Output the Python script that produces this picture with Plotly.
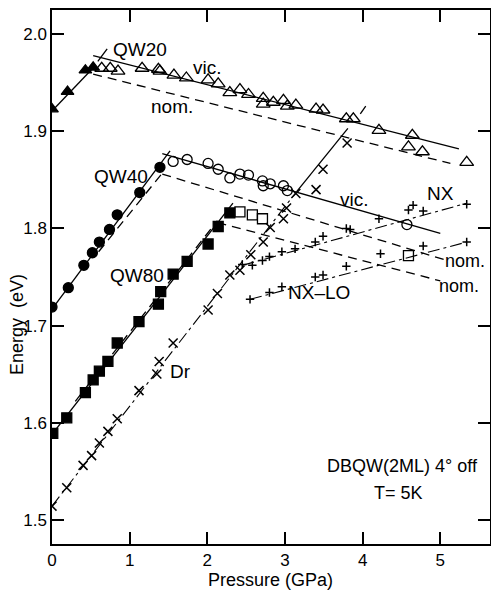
import plotly.graph_objects as go

# ---------------- data (pressure in GPa, energy in eV) ----------------
qw20_fill_p = [0.0, 0.20, 0.43, 0.53]
qw20_fill_e = [1.923, 1.941, 1.963, 1.966]
qw20_open_p = [0.64, 0.75, 0.85, 1.16, 1.37, 1.39, 1.57, 1.73, 2.01, 2.14, 2.29, 2.42, 2.53,
               2.72, 2.72, 2.85, 2.98, 3.03, 3.14, 3.40, 3.49, 3.79, 3.88, 4.21, 4.64, 4.59, 4.77, 5.34]
qw20_open_e = [1.965, 1.965, 1.962, 1.965, 1.964, 1.962, 1.958, 1.955, 1.953, 1.949, 1.940, 1.943, 1.938,
               1.934, 1.928, 1.930, 1.932, 1.926, 1.927, 1.923, 1.922, 1.913, 1.913, 1.901, 1.896, 1.884, 1.879, 1.868]

qw40_fill_p = [0.0, 0.21, 0.41, 0.52, 0.61, 0.74, 0.84, 1.13, 1.39]
qw40_fill_e = [1.719, 1.739, 1.762, 1.775, 1.786, 1.799, 1.814, 1.837, 1.863]
qw40_open_p = [1.56, 1.74, 2.01, 2.14, 2.29, 2.42, 2.53, 2.71, 2.72, 2.81, 2.98, 3.03, 4.57]
qw40_open_e = [1.869, 1.871, 1.867, 1.861, 1.852, 1.856, 1.855, 1.849, 1.844, 1.846, 1.844, 1.839, 1.804]

qw80_fill_p = [0.01, 0.19, 0.43, 0.53, 0.61, 0.72, 0.84, 1.12, 1.37, 1.40, 1.56, 1.74, 2.01, 2.14, 2.29]
qw80_fill_e = [1.589, 1.605, 1.631, 1.644, 1.653, 1.663, 1.682, 1.704, 1.722, 1.735, 1.753, 1.766, 1.784, 1.802, 1.816]
qw80_open_p = [2.42, 2.58, 2.71, 4.59]
qw80_open_e = [1.817, 1.814, 1.810, 1.772]

dr_p = [0.0, 0.19, 0.40, 0.51, 0.61, 0.72, 0.84, 1.12, 1.35, 1.38, 1.56, 2.01, 2.13, 2.29, 2.42,
        2.56, 2.72, 2.81, 2.98, 3.02, 3.14, 3.40, 3.49, 3.80]
dr_e = [1.514, 1.533, 1.556, 1.566, 1.579, 1.591, 1.604, 1.633, 1.650, 1.663, 1.682, 1.716, 1.733, 1.752, 1.757,
        1.773, 1.786, 1.801, 1.810, 1.821, 1.836, 1.840, 1.861, 1.888]

nx_p = [2.45, 2.58, 2.71, 2.80, 2.96, 3.13, 3.39, 3.49, 3.79, 3.84, 4.21, 4.59, 4.65, 4.78, 5.34]
nx_e = [1.763, 1.762, 1.767, 1.771, 1.776, 1.779, 1.786, 1.792, 1.800, 1.799, 1.810, 1.819, 1.824, 1.818, 1.825]
nxlo_p = [2.55, 2.80, 2.96, 3.39, 3.49, 3.79, 4.23, 4.78, 5.34]
nxlo_e = [1.727, 1.734, 1.740, 1.750, 1.752, 1.761, 1.774, 1.782, 1.786]

# fitted guide lines (start/end points)
qw20_rise_p, qw20_rise_e = [0.0, 0.55], [1.921, 1.967]
qw20_rise_ext_p, qw20_rise_ext_e = [0.59, 0.71], [1.972, 1.985]
qw20_vic_p, qw20_vic_e = [0.53, 5.24], [1.978, 1.882]
qw20_nom_p, qw20_nom_e = [0.53, 5.13], [1.959, 1.867]

qw40_rise_p, qw40_rise_e = [0.0, 1.52], [1.717, 1.880]
qw40_rise_nom_p, qw40_rise_nom_e = [0.60, 1.42], [1.776, 1.857]
qw40_vic_p, qw40_vic_e = [1.42, 5.00], [1.877, 1.795]
qw40_nom_p, qw40_nom_e = [1.42, 5.09], [1.856, 1.767]

qw80_rise_p, qw80_rise_e = [0.0, 2.33], [1.588, 1.826]
qw80_rise_nom_p, qw80_rise_nom_e = [0.30, 2.13], [1.622, 1.808]
qw80_nom_p, qw80_nom_e = [2.13, 5.00], [1.806, 1.746]

dr_low_p, dr_low_e = [0.0, 3.15], [1.514, 1.838]
dr_high_p, dr_high_e = [3.15, 3.81], [1.838, 1.903]
dr_ext_p, dr_ext_e = [3.97, 4.04], [1.918, 1.926]

nx_line_p, nx_line_e = [2.45, 5.34], [1.762, 1.826]
nxlo_line_p, nxlo_line_e = [2.55, 5.34], [1.727, 1.786]

x_ticks = [0, 1, 2, 3, 4, 5]
y_ticks = [1.5, 1.6, 1.7, 1.8, 1.9, 2.0]
y_tick_text = ["1.5", "1.6", "1.7", "1.8", "1.9", "2.0"]

FONT = "Liberation Sans"
K = "black"
DASH = "9px,6px"
DASHDOT = "12px,4px,3px,4px"

fig = go.Figure()


def line(p, e, dash="solid", w=1.3):
    fig.add_trace(go.Scatter(x=p, y=e, mode="lines", line=dict(color=K, width=w, dash=dash),
                             hoverinfo="skip", showlegend=False))


def pts(p, e, symbol, size, lw=1.3, fill=K):
    fig.add_trace(go.Scatter(x=p, y=e, mode="markers",
                             marker=dict(symbol=symbol, size=size, color=fill,
                                         line=dict(color=K, width=lw)),
                             showlegend=False))


# lines
line(qw20_rise_p, qw20_rise_e)
line(qw20_rise_ext_p, qw20_rise_ext_e)
line(qw20_vic_p, qw20_vic_e)
line(qw20_nom_p, qw20_nom_e, DASH)
line(qw40_rise_p, qw40_rise_e)
line(qw40_rise_nom_p, qw40_rise_nom_e, DASH)
line(qw40_vic_p, qw40_vic_e)
line(qw40_nom_p, qw40_nom_e, DASH)
line(qw80_rise_p, qw80_rise_e)
line(qw80_rise_nom_p, qw80_rise_nom_e, DASH)
line(qw80_nom_p, qw80_nom_e, DASH)
line(dr_low_p, dr_low_e, DASHDOT, 1.1)
line(dr_high_p, dr_high_e)
line(dr_ext_p, dr_ext_e)
line(nx_line_p, nx_line_e, DASHDOT, 1.1)
line(nxlo_line_p, nxlo_line_e, DASHDOT, 1.1)

# markers
pts(qw20_fill_p, qw20_fill_e, "triangle-up", 11)
pts(qw20_open_p, qw20_open_e, "triangle-up-open", 12)
pts(qw40_fill_p, qw40_fill_e, "circle", 10)
pts(qw40_open_p, qw40_open_e, "circle-open", 10)
pts(qw80_fill_p, qw80_fill_e, "square", 10)
pts(qw80_open_p, qw80_open_e, "square-open", 10)
pts(dr_p, dr_e, "x-thin", 9, lw=1.5)
pts(nx_p, nx_e, "cross-thin", 6, lw=1.5)
pts(nxlo_p, nxlo_e, "cross-thin", 6, lw=1.5)

labels = [
    ("QW20", 1.13, 1.984, 19, "center"), ("vic.", 2.0, 1.966, 19, "center"),
    ("nom.", 1.55, 1.926, 19, "center"),
    ("QW40", 0.89, 1.854, 19, "center"), ("QW80", 1.10, 1.752, 19, "center"),
    ("Dr", 1.65, 1.653, 19, "center"),
    ("vic.", 3.89, 1.830, 19, "center"), ("NX", 5.0, 1.836, 19, "center"),
    ("nom.", 5.60, 1.766, 18, "right"), ("nom.", 5.52, 1.741, 18, "right"),
    ("NX\u2013LO", 3.44, 1.734, 19, "center"),
    ("DBQW(2ML) 4\u00b0 off", 4.51, 1.555, 18, "center"), ("T= 5K", 4.46, 1.528, 18, "center"),
]
for txt, x, y, s, anc in labels:
    fig.add_annotation(x=x, y=y, text=txt, showarrow=False, xanchor=anc, yanchor="middle",
                       font=dict(family=FONT, size=s, color=K))

# axis titles as annotations (paper coordinates)
fig.add_annotation(x=-0.080, y=0.412, xref="paper", yref="paper", text="Energy  (eV)", textangle=-90,
                   showarrow=False, xanchor="center", yanchor="middle",
                   font=dict(family=FONT, size=18, color=K))
fig.add_annotation(x=0.498, y=-0.067, xref="paper", yref="paper", text="Pressure (GPa)",
                   showarrow=False, xanchor="center", yanchor="middle",
                   font=dict(family=FONT, size=18, color=K))

axis_common = dict(showline=True, linecolor=K, linewidth=1.5, mirror="ticks", ticks="inside",
                   ticklen=12, tickwidth=1.5, tickcolor=K, showgrid=False, zeroline=False,
                   automargin=False, tickfont=dict(family=FONT, size=17, color=K))
fig.update_xaxes(range=[0, 5.64], tickvals=x_ticks, **axis_common)
fig.update_yaxes(range=[1.475, 2.025], tickvals=y_ticks, ticktext=y_tick_text, **axis_common)

fig.update_layout(width=491, height=593, margin=dict(l=52, r=1, t=10, b=49, autoexpand=False),
                  paper_bgcolor="white", plot_bgcolor="white", showlegend=False)

fig.write_html("out.html", config={"displayModeBar": False},
               post_script="document.body.style.margin='0';document.body.style.overflow='hidden';")
